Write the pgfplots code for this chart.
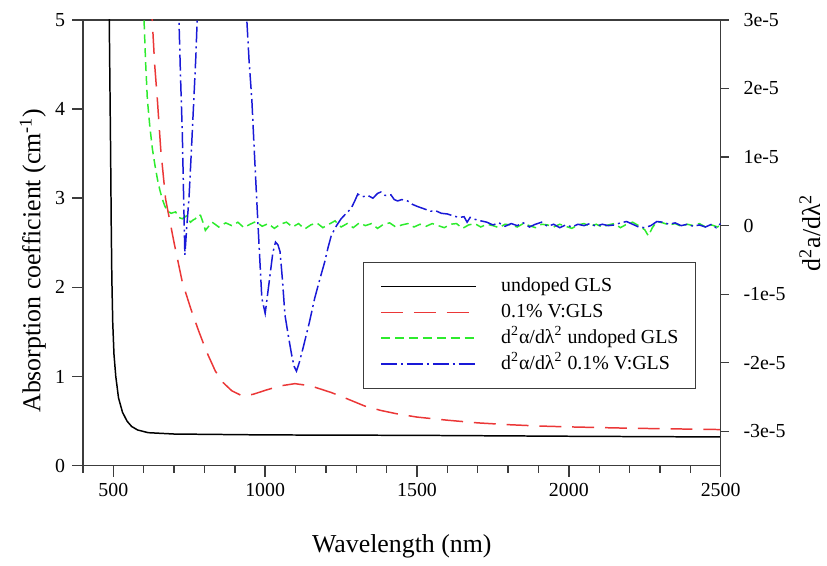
\documentclass[border=0pt]{standalone}
\usepackage{fontspec}
\setmainfont{Liberation Serif}
\usepackage{pgfplots}
\pgfplotsset{compat=1.18}
\usetikzlibrary{calc}

\definecolor{cred}{RGB}{235,55,55}
\definecolor{cgreen}{RGB}{45,235,45}
\definecolor{cblue}{RGB}{25,25,215}
\definecolor{axgray}{RGB}{60,60,60}

\begin{document}
\begin{tikzpicture}
\pgfplotsset{
  every axis/.append style={
    scale only axis, width=320.75pt, height=224.25pt,
    xmin=400, xmax=2500,
    tick align=outside,
    axis line style={axgray, line width=0.7pt},
    every tick/.style={axgray, line width=0.7pt},
    tick label style={font=\fontsize{10}{12}\selectfont},
    /pgf/number format/assume math mode=true,
    /pgf/number format/1000 sep={},
  },
}
\begin{axis}[
  ymin=0, ymax=5,
  xtick={500,1000,1500,2000,2500},
  minor xtick={400,600,700,800,900,1100,1200,1300,1400,1600,1700,1800,1900,2100,2200,2300,2400},
  ytick={0,1,2,3,4,5},
  xtick pos=bottom, ytick pos=left,
  major tick length=5.5pt, minor tick length=3.5pt,
  xlabel={Wavelength (nm)},
  ylabel={Absorption coefficient (cm\textsuperscript{-1})},
  every axis x label/.style={at={(axis description cs:0.5,-0.1817)},anchor=center,font=\fontsize{13}{15}\selectfont},
  every axis y label/.style={at={(axis description cs:-0.0787,0.46)},anchor=center,rotate=90,font=\fontsize{13}{15}\selectfont},
]
\coordinate (sw) at (rel axis cs:0,0);
\coordinate (ne) at (rel axis cs:1,1);
% undoped GLS
\addplot[black, line width=0.75pt] coordinates {
(485,5.5) (488,4.5) (491,3.5) (493,2.7) (495,2.1) (498,1.6) (502,1.25) (508,1.0)
(517,0.76) (530,0.6) (545,0.5) (560,0.44) (580,0.40) (615,0.37) (700,0.355)
(850,0.35) (1000,0.345) (1500,0.34) (2000,0.33) (2500,0.322)
};
% 0.1% V:GLS
\addplot[cred, line width=0.75pt, dash pattern=on 11pt off 5.5pt] coordinates {
(622,5.6) (628,5.0) (636,4.5) (645,4.1) (656,3.55) (672,2.99) (700,2.5) (727,2.06)
(755,1.76) (781,1.51) (808,1.27) (836,1.06) (862,0.93) (890,0.84) (923,0.785)
(960,0.80) (1000,0.845) (1050,0.895) (1098,0.92) (1150,0.895) (1218,0.82)
(1270,0.75) (1327,0.67) (1380,0.62) (1436,0.58) (1500,0.545) (1600,0.51)
(1700,0.48) (1800,0.46) (1900,0.445) (2000,0.435) (2200,0.42) (2400,0.41) (2500,0.405)
};
\end{axis}
\begin{axis}[
  ymin=-3.5, ymax=3,
  axis x line=none,
  axis y line*=right,
  ytick={-3,-2,-1,0,1,2,3},
  yticklabels={-3e-5,-2e-5,-1e-5,0,1e-5,2e-5,3e-5},
  yticklabel style={xshift=4pt},
  major tick length=4pt,
  ylabel={d\textsuperscript{2}a/dλ\textsuperscript{2}},
  every axis y label/.style={at={(axis description cs:1.14,0.523)},anchor=center,rotate=90,font=\fontsize{13}{15}\selectfont},
  legend image code/.code={\draw[#1] (0pt,0pt) -- (47.5pt,0pt);},
  legend cell align=left,
  legend style={at={(axis description cs:0.4388,0.458)}, anchor=north west,
    draw=axgray, line width=0.7pt, inner xsep=8.5pt, inner ysep=7.75pt,
    font=\fontsize{10}{12}\selectfont,
    nodes={inner sep=0pt, text height=7pt, text depth=2pt},
    row sep=4pt, column sep=12.5pt},
]
\addlegendimage{black, line width=0.75pt}
\addlegendentry{undoped GLS}
\addlegendimage{cred, line width=0.75pt, dash pattern=on 11pt off 5.5pt}
\addlegendentry{0.1\% V:GLS}
% d2 undoped
\addplot[cgreen, line width=0.75pt, dash pattern=on 4.5pt off 2.5pt] coordinates {
(595,3.6) (601,3.0) (606,2.4) (612,1.84) (620,1.45) (628.5,1.12) (637,0.88) (645,0.68)
(653,0.52) (661,0.39) (669,0.29) (677,0.22) (690,0.18) (705,0.20) (715,0.12)
(727,0.10) (740,0.14) (754,0.05) (762,0.08) (770,0.10) (780,0.16) (787,0.15)
(795,0.05) (803,-0.07) (812,-0.02) (825,0.05) (835,0.02) (847,-0.02)
(870,0.04) (890,0.00) (910,0.05) (930,-0.03) (950,0.02) (970,0.06) (990,-0.01)
(1010,0.03) (1030,-0.04) (1050,0.02) (1070,0.05) (1090,-0.02) (1110,0.03)
(1130,-0.05) (1150,0.01) (1170,0.04) (1190,-0.03) (1210,0.02) (1230,0.07)
(1250,-0.02) (1270,0.03) (1290,-0.03) (1310,0.04) (1330,0.00) (1350,0.03)
(1370,-0.04) (1390,0.02) (1410,0.04) (1430,-0.02) (1450,0.01) (1470,0.03)
(1490,-0.02) (1510,0.02) (1530,-0.01) (1550,0.03) (1570,0.00) (1590,-0.03)
(1610,0.02) (1630,0.03) (1650,-0.04) (1670,0.01) (1690,0.03) (1710,-0.02)
(1730,0.02) (1750,0.00) (1770,-0.03) (1790,0.02) (1810,0.01) (1830,-0.02)
(1850,0.03) (1870,0.00) (1890,-0.03) (1910,0.02) (1930,0.01) (1950,-0.02)
(1970,0.02) (1990,-0.01) (2010,-0.04) (2030,0.01) (2050,0.03) (2070,-0.01)
(2090,0.02) (2110,-0.02) (2130,0.01) (2150,0.03) (2170,-0.03) (2190,0.02)
(2210,0.05) (2230,0.00) (2250,-0.06) (2262,-0.15) (2275,-0.03) (2290,0.06)
(2310,0.04) (2330,0.01) (2350,0.03) (2370,-0.01) (2390,0.02) (2410,0.00)
(2430,0.03) (2450,-0.02) (2470,0.01) (2490,-0.02) (2500,0.02)
};
\addlegendentry{d\textsuperscript{2}α/dλ\textsuperscript{2} undoped GLS}
% d2 0.1% V
\addplot[cblue, line width=0.75pt, dash pattern=on 8pt off 2pt on 1pt off 2pt] coordinates {
(710,4.0) (716,3.0) (721,2.2) (727,1.36) (731,0.5) (735.5,-0.43) (742,0.0)
(749,0.39) (757,1.1) (765,1.84) (772,2.5) (776,3.0) (781,3.8) (935,3.8)
(939.5,3.0) (947,2.4) (956,1.84) (964,1.1) (972,0.39) (980,-0.3) (989,-1.06)
(1000,-1.28) (1008,-1.0) (1016,-0.72) (1025,-0.4) (1034,-0.24) (1042,-0.28)
(1049,-0.38) (1057,-0.8) (1065,-1.3) (1076,-1.6) (1087,-1.88) (1095,-2.05)
(1103,-2.12) (1112,-2.0) (1125,-1.78) (1145,-1.42) (1163,-1.06) (1180,-0.78)
(1196,-0.53) (1207,-0.32) (1218,-0.14) (1235,0.0) (1250,0.10) (1265,0.17)
(1283,0.25) (1295,0.36) (1305,0.46) (1320,0.42) (1338,0.44) (1355,0.40)
(1370,0.47) (1381,0.49) (1395,0.44) (1414,0.45) (1425,0.38) (1436,0.36)
(1450,0.38) (1469,0.36) (1485,0.31) (1501,0.28) (1520,0.25) (1545,0.21)
(1560,0.22) (1580,0.18) (1600,0.17) (1620,0.14) (1640,0.12) (1655,0.13)
(1665,0.05) (1675,0.12) (1692,0.09) (1710,0.07) (1730,0.05) (1750,0.01)
(1770,0.04) (1790,-0.01) (1810,0.03) (1830,0.00) (1850,0.04) (1870,-0.02)
(1890,0.02) (1910,0.05) (1930,-0.01) (1950,0.02) (1970,-0.03) (1990,0.01)
(2010,-0.02) (2030,0.02) (2050,0.00) (2070,0.03) (2090,-0.01) (2110,0.02)
(2130,0.00) (2150,0.01) (2170,0.04) (2190,0.06) (2210,0.02) (2230,-0.02)
(2250,-0.03) (2270,0.00) (2290,0.06) (2310,0.05) (2330,0.02) (2350,0.04)
(2370,0.00) (2390,0.02) (2410,-0.01) (2430,0.01) (2450,-0.02) (2470,0.02)
(2485,-0.03) (2500,0.03)
};
\addlegendentry{d\textsuperscript{2}α/dλ\textsuperscript{2} 0.1\% V:GLS}
\end{axis}
\path ($(sw)+(-41.75pt,-49.75pt)$) rectangle ($(ne)+(51pt,10pt)$);
\end{tikzpicture}
\end{document}
